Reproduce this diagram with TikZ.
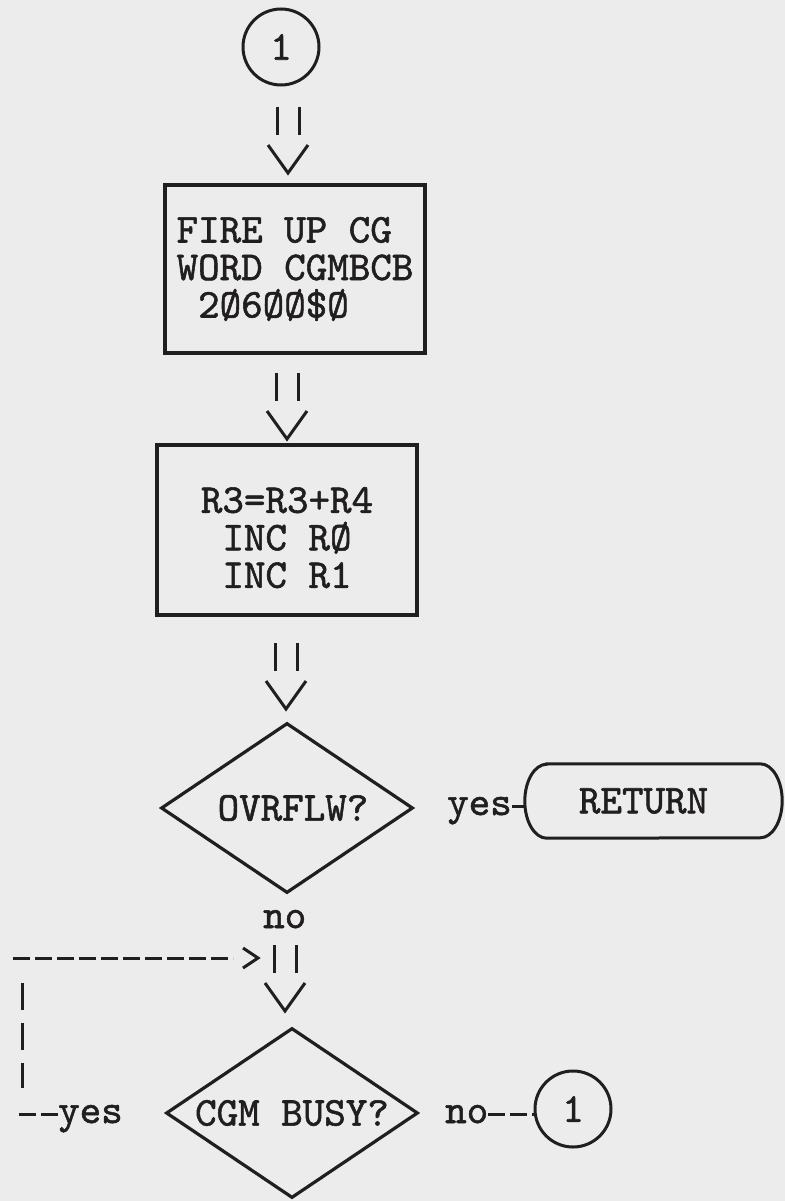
\documentclass[tikz,border=0pt]{standalone}
\usepackage{fontspec}
\newfontfamily\typewriter{lmmono10-regular.otf}[RawFeature={embolden=1.3}]
\usetikzlibrary{shapes.geometric,calc}
\definecolor{paper}{RGB}{237,236,236}
\definecolor{ink}{RGB}{32,30,30}
\begin{document}
\begin{tikzpicture}[x=1pt,y=1pt,
  every node/.style={font=\typewriter\fontsize{41}{37.5}\selectfont, text=ink},
  txt/.style={inner sep=0pt},
  boxshape/.style={draw=ink, line width=3.4pt, rectangle, inner sep=0pt},
  decision/.style={draw=ink, line width=3.2pt, diamond, aspect=1.5, inner sep=0pt,
                   minimum width=252pt, minimum height=170pt},
  connector/.style={circle, draw=ink, line width=3pt, minimum size=76pt, inner sep=0pt},
  conn/.style={draw=ink, line width=3pt},
  tdash/.style={conn, dash pattern=on 17pt off 5pt},
  vdash/.style={conn, dash pattern=on 27pt off 13pt},
  flowarrow/.pic={
    \draw[conn] (-11,0) -- (-11,-28);
    \draw[conn] (11,0) -- (11,-28);
    \draw[conn] (-20,-38) -- (0,-66) -- (20,-38);
  }]
\fill[paper] (0,0) rectangle (785,-1201);
\useasboundingbox (0,0) rectangle (785,-1201);

% top connector
\node[connector] (c1) at (281,-47) {1};
\pic at (288,-107) {flowarrow};

% first process box
\node[boxshape, minimum width=260pt, minimum height=168pt, align=left] (b1) at (295,-269)
  {FIRE UP CG\\WORD CGMBCB\\ \hspace*{0.525em}2Ø6ØØ\$Ø};
\pic at (287,-373) {flowarrow};

% second process box
\node[boxshape, minimum width=260pt, minimum height=170pt, align=center] (b2) at (287,-530)
  {\rule{0pt}{41pt}R3=R3+R4\\INC RØ\\INC R1};
\pic at (286,-643) {flowarrow};

% overflow decision
\node[decision] (d1) at (287,-808) {\hspace*{12pt}OVRFLW?};
\node[txt, anchor=base west] (yes1) at (447,-815) {yes};
\node[txt, minimum width=257pt, minimum height=74pt] (ret) at (653.5,-801) {\hspace*{-20pt}RETURN};
\draw[conn] ([xshift=22pt]ret.north west) -- ([xshift=-22pt]ret.north east)
  arc[start angle=90, end angle=-90, x radius=22, y radius=37]
  -- ([xshift=22pt]ret.south west)
  arc[start angle=270, end angle=90, x radius=22, y radius=37] -- cycle;
\draw[conn] ([yshift=9pt]yes1.base east) -- ([yshift=9pt]yes1.base east -| ret.west);

\node[txt, anchor=base west] (no1) at (263,-928) {no};
\pic at (285,-945) {flowarrow};

% busy decision
\node[decision] (d2) at (292,-1113) {CGM BUSY?};
\node[txt, anchor=base west] (yes2) at (58,-1123) {yes};
\node[txt, anchor=base west] (no2) at (445,-1123) {no};
\node[connector] (c2) at (573,-1109) {1};
\draw[tdash] ([yshift=9pt]no2.base east) -- ([yshift=9pt]no2.base east -| c2.west);

% loop back
\coordinate (lb) at (15,-1114);
\coordinate (vt) at (22,-983);
\coordinate (vb) at (22,-1088);
\coordinate (lt) at (13,-958);
\coordinate (tip) at (233,-958);
\draw[tdash] ([yshift=9pt]yes2.base west) -- (yes2.base west |- lb) -- (lb);
\draw[vdash] (vt) -- (vb);
\draw[tdash] (lt) -- (tip);
\draw[conn] ([shift={(10,10)}]tip) -- ([shift={(25,0)}]tip) -- ([shift={(10,-10)}]tip);
\end{tikzpicture}
\end{document}
